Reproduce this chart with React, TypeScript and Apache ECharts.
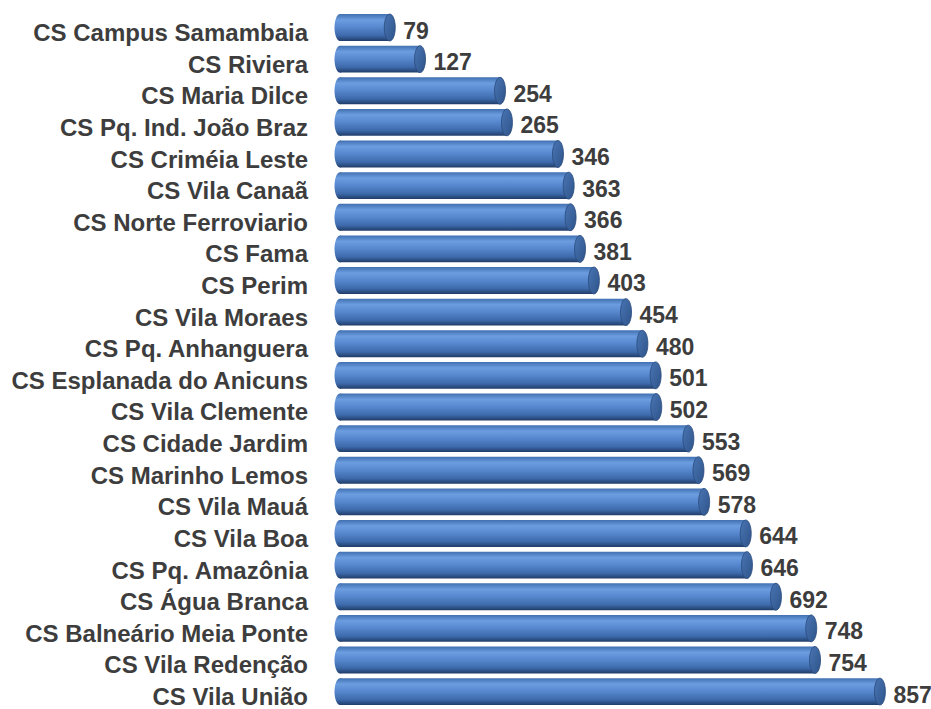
import React, { useEffect, useRef } from "react";
import * as echarts from "echarts";

const categories = [
  "CS Campus Samambaia",
  "CS Riviera",
  "CS Maria Dilce",
  "CS Pq. Ind. João Braz",
  "CS Criméia Leste",
  "CS Vila Canaã",
  "CS Norte Ferroviario",
  "CS Fama",
  "CS Perim",
  "CS Vila Moraes",
  "CS Pq. Anhanguera",
  "CS Esplanada do Anicuns",
  "CS Vila Clemente",
  "CS Cidade Jardim",
  "CS Marinho Lemos",
  "CS Vila Mauá",
  "CS Vila Boa",
  "CS Pq. Amazônia",
  "CS Água Branca",
  "CS Balneário Meia Ponte",
  "CS Vila Redenção",
  "CS Vila União",
];

const values = [79, 127, 254, 265, 346, 363, 366, 381, 403, 454, 480, 501, 502, 553, 569, 578, 644, 646, 692, 748, 754, 857];

const TEXT_COLOR = "#3d3d3d";
const FONT = "Arial, 'Liberation Sans', sans-serif";

export default function App() {
  const ref = useRef<HTMLDivElement>(null);

  useEffect(() => {
    if (!ref.current) return;
    const chart = echarts.init(ref.current, null, { renderer: "svg" });

    const bodyGrad = () =>
      new echarts.graphic.LinearGradient(0, 0, 0, 1, [
        { offset: 0, color: "#4070b0" },
        { offset: 0.22, color: "#6c9de0" },
        { offset: 0.45, color: "#5a8bd2" },
        { offset: 0.8, color: "#3d6aab" },
        { offset: 1, color: "#203c68" },
      ]);
    const capGrad = () =>
      new echarts.graphic.LinearGradient(0, 0, 1, 1, [
        { offset: 0, color: "#4a76b4" },
        { offset: 1, color: "#2e5389" },
      ]);

    chart.setOption({
      animation: false,
      grid: { left: 340, right: 24, top: 11.7, bottom: 1.6, containLabel: false },
      xAxis: {
        type: "value",
        min: 0,
        max: 900,
        show: false,
      },
      yAxis: {
        type: "category",
        data: categories,
        inverse: true,
        axisLine: { show: false },
        axisTick: { show: false },
        splitLine: { show: false },
        axisLabel: {
          color: TEXT_COLOR,
          fontSize: 24,
          fontWeight: "bold",
          fontFamily: FONT,
          margin: 32,
          verticalAlign: "top",
          lineHeight: 10,
        },
      },
      series: [
        {
          type: "custom",
          encode: { x: 0, y: 1 },
          data: values.map((v, i) => [v, i]),
          renderItem: (params: any, api: any) => {
            const v = api.value(0);
            const idx = api.value(1);
            const start = api.coord([0, idx]);
            const end = api.coord([v, idx]);
            const h = api.size([0, 1])[1] * 0.85;
            const rx = 5.5;
            return {
              type: "group",
              children: [
                {
                  type: "ellipse",
                  shape: { cx: start[0], cy: start[1], rx, ry: h / 2 },
                  style: { fill: bodyGrad() },
                },
                {
                  type: "rect",
                  shape: { x: start[0], y: start[1] - h / 2, width: end[0] - start[0], height: h },
                  style: { fill: bodyGrad() },
                },
                {
                  type: "ellipse",
                  shape: { cx: end[0], cy: end[1], rx, ry: h / 2 },
                  style: { fill: capGrad(), stroke: "#2a4a7c", lineWidth: 0.8 },
                },
                {
                  type: "text",
                  x: end[0] + rx + 8,
                  y: end[1] + 3,
                  style: {
                    text: String(v),
                    fill: TEXT_COLOR,
                    fontSize: 23,
                    fontWeight: "bold",
                    fontFamily: FONT,
                    align: "left",
                    verticalAlign: "middle",
                  },
                },
              ],
            };
          },
        },
      ],
    });

    return () => chart.dispose();
  }, []);

  return (
    <div
      ref={ref}
      style={{ position: "fixed", left: 0, top: 0, width: 931, height: 709, background: "#ffffff" }}
    />
  );
}
